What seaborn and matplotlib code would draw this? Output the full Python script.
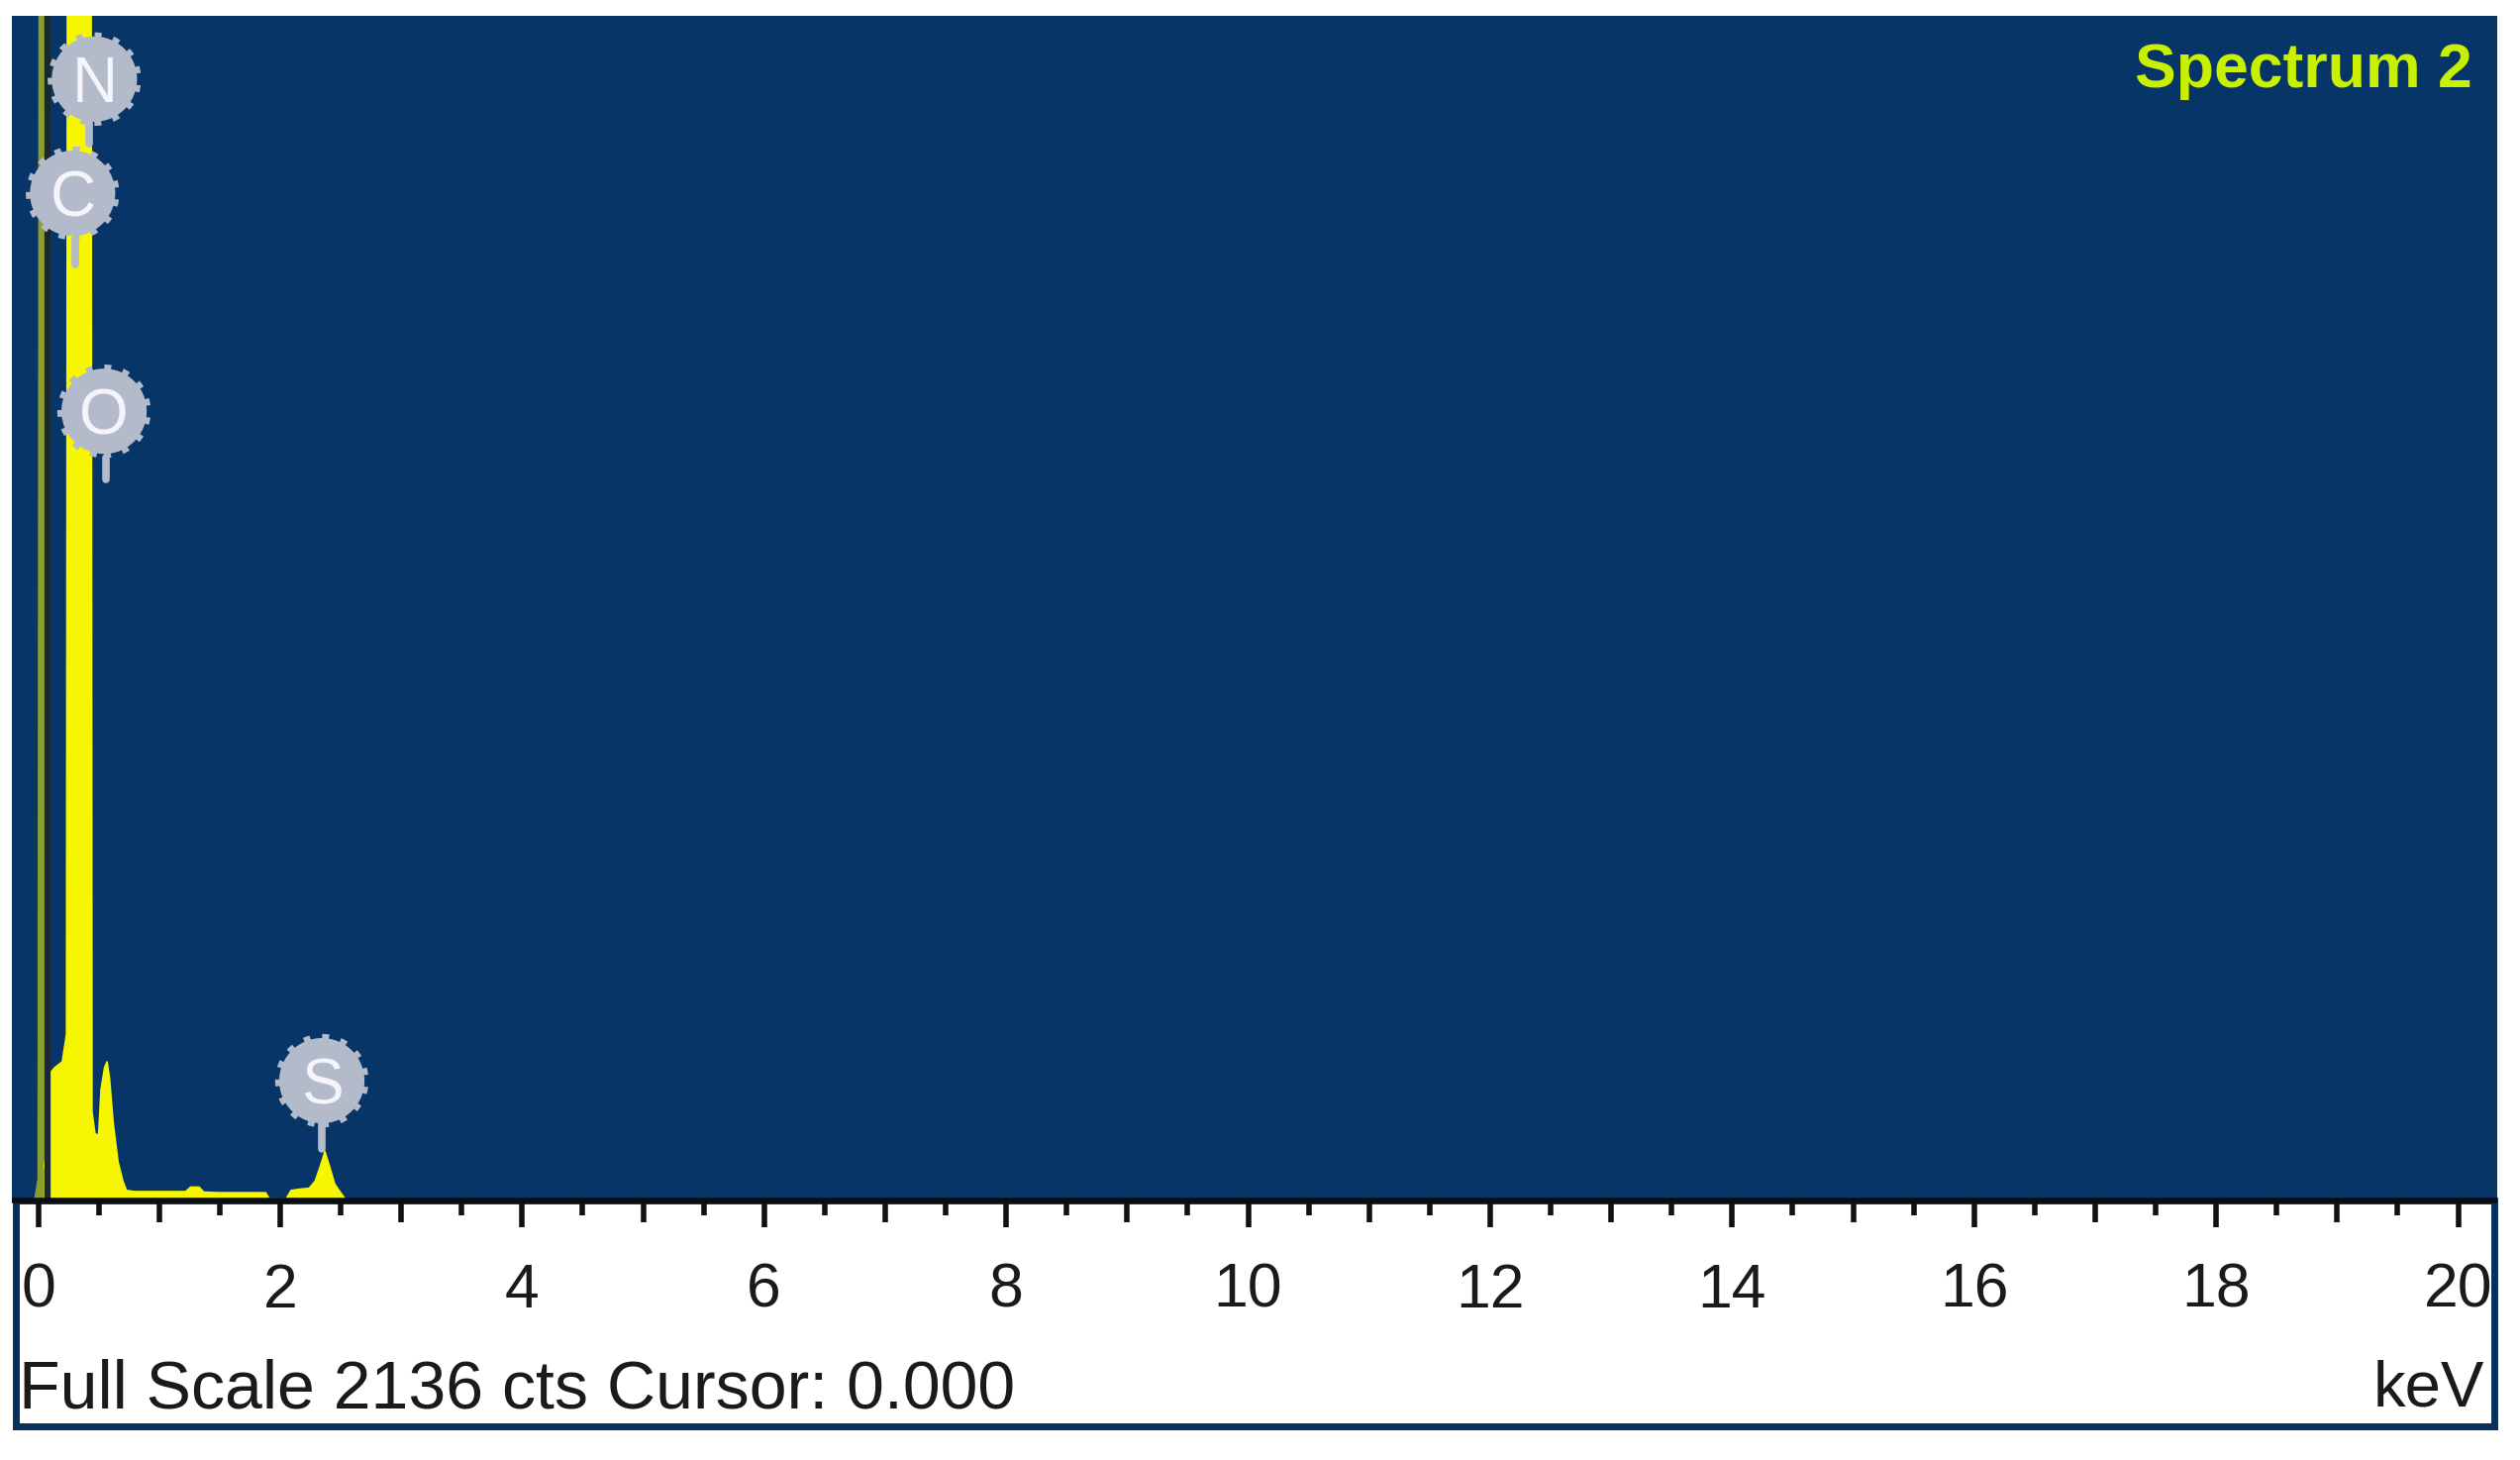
import numpy as np
import matplotlib
matplotlib.use("Agg")
import matplotlib.pyplot as plt
from matplotlib.patches import Rectangle
import seaborn as sns

# ---------------- data ----------------
spectrum_kev = [0.05, 0.07, 0.10, 0.14, 0.20, 0.235, 0.245, 0.30, 0.38, 0.435,
                0.445, 0.47, 0.50, 0.52, 0.55, 0.57, 0.59, 0.62, 0.66, 0.70,
                0.73, 0.80, 1.00, 1.22, 1.26, 1.33, 1.37, 1.50, 1.70, 1.88,
                1.91, 2.05, 2.09, 2.15, 2.24, 2.29, 2.33, 2.37, 2.41, 2.45,
                2.50, 2.54, 3.00, 20.0]
spectrum_cts = [60, 90, 230, 240, 250, 300, 3000, 3000, 3000, 3000,
                160, 120, 118, 200, 240, 250, 220, 140, 70, 35,
                18, 16, 16, 16, 24, 24, 15, 14, 14, 14,
                3, 3, 18, 20, 22, 35, 60, 88, 60, 30,
                14, 2, 2, 2]
zero_peak_kev = [-0.04, -0.01, 0.0, 0.045, 0.06]
zero_peak_cts = [0, 40, 2600, 2600, 60]
cursor_kev = 0.078
full_scale_cts = 2136

label_elements = ["N", "C", "O", "S"]
label_kev = [0.465, 0.285, 0.545, 2.345]
label_cts = [2022, 1816, 1423, 216]
stem_kev = [0.42, 0.305, 0.56, 2.345]
stem_top_cts = [1950, 1735, 1340, 140]
stem_bottom_cts = [1905, 1688, 1300, 92]

major_ticks = list(range(0, 21, 2))
odd_ticks = list(range(1, 20, 2))
half_ticks = [i + 0.5 for i in range(0, 20)]
tick_labels = [str(t) for t in major_ticks]

title_text = "Spectrum 2"
footer_text = "Full Scale 2136 cts Cursor: 0.000"
unit_text = "keV"

# ---------------- style ----------------
sns.set_theme(style="white")
plt.rcParams["font.family"] = ["Liberation Sans", "DejaVu Sans"]

BG = "#083567"
NAVY = "#07305d"
YELLOW = "#f6f600"
GEAR = "#b3bac9"

W, H = 2545, 1474
fig = plt.figure(figsize=(W / 100, H / 100), dpi=100)
fig.patch.set_facecolor("white")


def fx(px):
    return px / W


def fy(py):
    return 1 - py / H


# white lower panel with dark frame (drawn behind the axes and its ticks)
panel = Rectangle((fx(15.5), fy(1439.5)), fx(2518.5) - fx(15.5), fy(1212) - fy(1439.5),
                  transform=fig.transFigure, facecolor="white", edgecolor=NAVY,
                  linewidth=5, zorder=-5)
fig.patches.append(panel)

left_px, right_px, top_px, bot_px = 12, 2522, 16, 1212
ax = fig.add_axes([fx(left_px), fy(bot_px), fx(right_px) - fx(left_px), fy(top_px) - fy(bot_px)])
ax.set_zorder(2)
ax.set_facecolor(BG)

x0_px, px_per_kev = 38.5, 122.2
ax.set_xlim((left_px - x0_px) / px_per_kev, (right_px - x0_px) / px_per_kev)
ax.set_ylim(0, full_scale_cts)

# spectrum
ax.fill_between(zero_peak_kev, zero_peak_cts, color=YELLOW, alpha=0.55, lw=0, zorder=2)
ax.fill_between(spectrum_kev, spectrum_cts, color=YELLOW, lw=0, zorder=2)
sns.lineplot(x=spectrum_kev, y=spectrum_cts, ax=ax, color=YELLOW, lw=1.2,
             estimator=None, sort=False, zorder=3)
ax.axvline(cursor_kev, color="#1a2630", lw=4.5, zorder=4)

# element labels
for sk, st, sb in zip(stem_kev, stem_top_cts, stem_bottom_cts):
    ax.plot([sk, sk], [sb, st], color=GEAR, lw=5.5, solid_capstyle="round", zorder=5)
for el, xk, yc in zip(label_elements, label_kev, label_cts):
    ax.scatter([xk], [yc], s=62 ** 2, color=GEAR, edgecolors=GEAR, linewidths=6,
               linestyles=[(0, (0.8, 1.4))], zorder=6)
    ax.text(xk, yc, el, color="#f4f4fa", fontsize=46, ha="center", va="center_baseline",
            zorder=7)

# axis styling
for s in ["left", "right", "top"]:
    ax.spines[s].set_visible(False)
ax.spines["bottom"].set_color("#0d0d0d")
ax.spines["bottom"].set_linewidth(4)
ax.spines["bottom"].set_capstyle("butt")
ax.spines["bottom"].set_zorder(8)
ax.set_yticks([])
ax.set_xticks(major_ticks)
ax.set_xticklabels(tick_labels)
ax.set_xticks(half_ticks, minor=True)
ax.tick_params(axis="x", which="major", direction="out", length=19.5, width=4,
               color="#111111", pad=25, labelsize=45, labelcolor="#1a1a1a", bottom=True)
ax.tick_params(axis="x", which="minor", direction="out", length=11, width=4,
               color="#111111", bottom=True)
sec = ax.secondary_xaxis("bottom")
sec.set_xticks(odd_ticks)
sec.tick_params(axis="x", direction="out", length=15.5, width=4, color="#111111",
                labelbottom=False, bottom=True)
sec.spines["bottom"].set_visible(False)
ax.set_xlabel("")
ax.set_ylabel("")

# texts
fig.text(fx(2497), fy(88), title_text, color="#c8f000", fontsize=45, fontweight="bold",
         ha="right", va="baseline")
fig.text(fx(19), fy(1421), footer_text, color="#1a1a1a", fontsize=49, ha="left",
         va="baseline")
fig.text(fx(2509), fy(1420), unit_text, color="#1a1a1a", fontsize=47, ha="right",
         va="baseline")

fig.savefig("out.png", dpi=100, facecolor="white")
